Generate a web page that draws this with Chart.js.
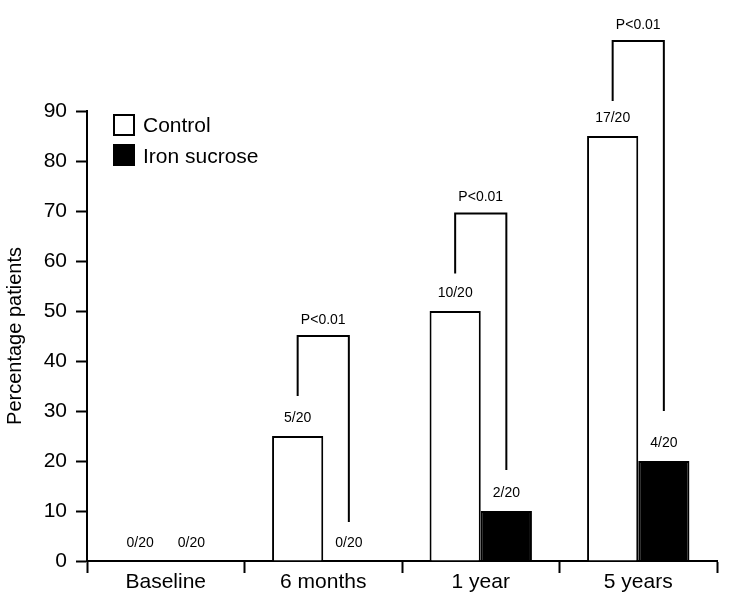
<!DOCTYPE html>
<html>
<head>
<meta charset="utf-8">
<script src="https://cdn.jsdelivr.net/npm/chart.js@4"></script>
<style>
  html, body { margin: 0; padding: 0; background: #fff; }
</style>
</head>
<body>
<canvas id="BarChart" width="731" height="597"></canvas>
<script>
// 데이터
const categories = ['Baseline', '6 months', '1 year', '5 years'];
const controlValues = [0, 25, 50, 85];
const ironValues = [0, 0, 10, 20];
const controlLabels = ['0/20', '5/20', '10/20', '17/20'];
const ironLabels = ['0/20', '0/20', '2/20', '4/20'];
const yTicks = [0, 10, 20, 30, 40, 50, 60, 70, 80, 90];

// P값 브래킷 (카테고리 index, 왼쪽 끝, 위, 오른쪽 끝 - y값 단위)
const bracketCats = [1, 2, 3];
const bracketLeft = [33, 57.5, 92];
const bracketTop = [45, 69.5, 104];
const bracketRight = [7.8, 18.2, 30];
const bracketText = ['P<0.01', 'P<0.01', 'P<0.01'];

const FONT = '"Liberation Sans", Arial, Helvetica, sans-serif';

// 막대 위 숫자 + 브래킷 + 범례 그리기
const annotationPlugin = {
    id: 'annotationPlugin',
    afterDatasetsDraw: (chart) => {
        const { ctx, chartArea, scales } = chart;
        const y = scales.y;
        const m0 = chart.getDatasetMeta(0);
        const m1 = chart.getDatasetMeta(1);
        ctx.save();
        ctx.fillStyle = '#000';
        ctx.font = '14px ' + FONT;
        ctx.textAlign = 'center';
        ctx.textBaseline = 'middle';
        // n/20 라벨
        m0.data.forEach((bar, i) => ctx.fillText(controlLabels[i], bar.x, bar.y - 18));
        m1.data.forEach((bar, i) => ctx.fillText(ironLabels[i], bar.x, bar.y - 18));

        // 브래킷
        ctx.strokeStyle = '#000';
        ctx.lineWidth = 2;
        bracketCats.forEach((c, i) => {
            const xl = m0.data[c].x;
            const xr = m1.data[c].x;
            const yt = y.getPixelForValue(bracketTop[i]);
            ctx.beginPath();
            ctx.moveTo(xl, y.getPixelForValue(bracketLeft[i]));
            ctx.lineTo(xl, yt);
            ctx.lineTo(xr, yt);
            ctx.lineTo(xr, y.getPixelForValue(bracketRight[i]));
            ctx.stroke();
            ctx.fillText(bracketText[i], (xl + xr) / 2, yt - 16);
        });

        // 범례
        const lx = chartArea.left + 27;
        const ly = chartArea.top + 4;
        ctx.lineWidth = 2;
        ctx.strokeRect(lx, ly, 20, 20);
        ctx.fillRect(lx - 1, ly + 29, 22, 22);
        ctx.font = '21px ' + FONT;
        ctx.textAlign = 'left';
        ctx.fillText('Control', lx + 29, ly + 11);
        ctx.fillText('Iron sucrose', lx + 29, ly + 42);
        ctx.restore();
    }
};

const bar_chart = () => {
    const canvas = document.getElementById('BarChart');
    if (!canvas) return;

    new Chart(canvas, {
        type: 'bar',
        data: {
            labels: categories,
            datasets: [
                {
                    label: 'Control',
                    data: controlValues,
                    backgroundColor: '#fff',
                    borderColor: '#000',
                    borderWidth: 2
                },
                {
                    label: 'Iron sucrose',
                    data: ironValues,
                    backgroundColor: '#000',
                    borderColor: '#000',
                    borderWidth: 2
                }
            ]
        },
        options: {
            responsive: false,
            animation: false,
            categoryPercentage: 0.65,
            barPercentage: 1.0,
            layout: { padding: { top: 111, right: 14, left: 0, bottom: 0 } },
            plugins: {
                legend: { display: false },
                tooltip: { enabled: false }
            },
            scales: {
                x: {
                    grid: {
                        offset: true,
                        drawOnChartArea: false,
                        drawTicks: true,
                        tickLength: 12,
                        tickWidth: 2,
                        tickColor: '#000'
                    },
                    border: { color: '#000', width: 2 },
                    ticks: {
                        color: '#000',
                        font: { family: FONT, size: 21 },
                        padding: -3
                    },
                    afterFit: (scale) => { scale.height = 36; }
                },
                y: {
                    min: 0,
                    max: 90,
                    afterBuildTicks: (scale) => {
                        scale.ticks = yTicks.map(v => ({ value: v }));
                    },
                    grid: {
                        drawOnChartArea: false,
                        drawTicks: true,
                        tickLength: 11,
                        tickWidth: 2,
                        tickColor: '#000'
                    },
                    border: { color: '#000', width: 2 },
                    ticks: {
                        color: '#000',
                        font: { family: FONT, size: 21 },
                        padding: 9
                    },
                    title: {
                        display: true,
                        text: 'Percentage patients',
                        color: '#000',
                        font: { family: FONT, size: 20 },
                        padding: { top: 3, bottom: 0 }
                    },
                    afterFit: (scale) => { scale.width = 87; }
                }
            }
        },
        plugins: [annotationPlugin]
    });
};

document.addEventListener('DOMContentLoaded', () => {
    bar_chart();
});
</script>
</body>
</html>
